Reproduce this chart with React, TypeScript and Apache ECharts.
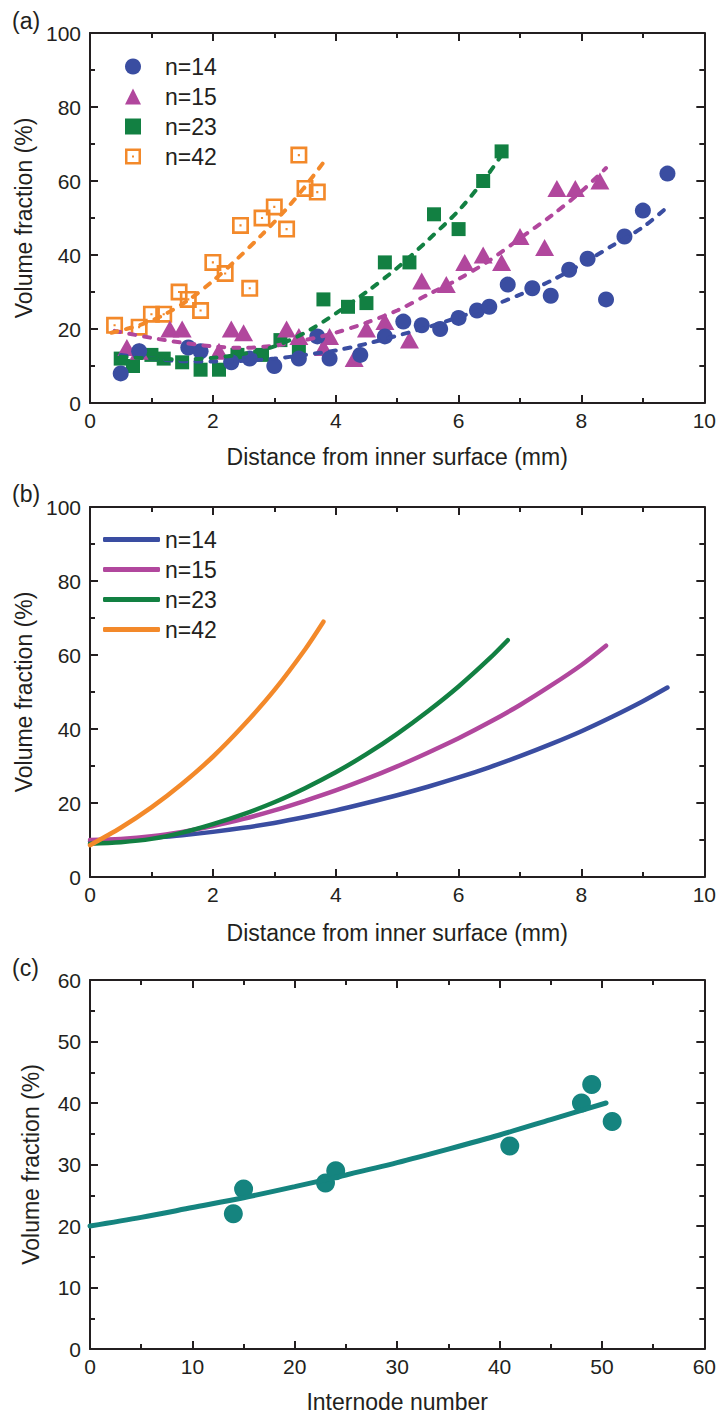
import React, { useEffect, useRef } from "react";
import * as echarts from "echarts";

// ---------- Panel (a): measured points ----------
const n14Points = [
  [0.5, 8], [0.8, 14], [1.6, 15], [1.8, 14], [2.3, 11], [2.6, 12], [3.0, 10], [3.4, 12],
  [3.7, 18], [3.9, 12], [4.4, 13], [4.8, 18], [5.1, 22], [5.4, 21], [5.7, 20], [6.0, 23],
  [6.3, 25], [6.5, 26], [6.8, 32], [7.2, 31], [7.5, 29], [7.8, 36], [8.1, 39], [8.4, 28],
  [8.7, 45], [9.0, 52], [9.4, 62],
];
const n15Points = [
  [0.6, 15], [0.8, 14], [1.3, 20], [1.5, 20], [2.1, 14], [2.3, 20], [2.5, 19], [3.2, 20],
  [3.4, 18], [3.8, 15], [3.9, 18], [4.3, 12], [4.5, 20], [4.8, 22], [5.2, 17], [5.4, 33],
  [5.8, 32], [6.1, 38], [6.4, 40], [6.7, 38], [7.0, 45], [7.4, 42], [7.6, 58], [7.9, 58],
  [8.3, 60],
];
const n23Points = [
  [0.5, 12], [0.7, 10], [1.0, 13], [1.2, 12], [1.5, 11], [1.8, 9], [2.1, 9], [2.4, 13],
  [2.8, 13], [3.1, 17], [3.4, 14], [3.8, 28], [4.2, 26], [4.5, 27], [4.8, 38], [5.2, 38],
  [5.6, 51], [6.0, 47], [6.4, 60], [6.7, 68],
];
const n42Points = [
  [0.4, 21], [0.8, 20.5], [1.0, 24], [1.2, 24], [1.45, 30], [1.6, 28], [1.8, 25], [2.0, 38],
  [2.2, 35], [2.45, 48], [2.6, 31], [2.8, 50], [3.0, 53], [3.2, 47], [3.4, 67], [3.5, 58],
  [3.7, 57],
];

// ---------- Panel (a): dashed fit curves ----------
const fitA14 = [
  [0.5, 13], [1, 12], [1.5, 11.3], [2, 11.2], [2.5, 11.4], [3, 12], [3.5, 13], [4, 14.2],
  [4.5, 16], [5, 18.2], [5.5, 20.5], [6, 23.2], [6.5, 26], [7, 29.3], [7.5, 33], [8, 37.5],
  [8.5, 42.5], [9, 47.5], [9.4, 53],
];
const fitA15 = [
  [0.4, 19.5], [1, 17.6], [1.5, 16.3], [2, 15.3], [2.5, 14.9], [3, 15.5], [3.5, 17], [4, 19],
  [4.5, 21.7], [5, 25], [5.5, 29.3], [6, 33.5], [6.5, 38.5], [7, 44.5], [7.5, 50.5], [8, 57.2],
  [8.4, 63.5],
];
const fitA23 = [
  [0.5, 12.5], [1, 12], [1.5, 11.8], [2, 12.2], [2.5, 13.3], [3, 15.3], [3.5, 19], [4, 24.2],
  [4.5, 30], [5, 36.5], [5.5, 44], [6, 52], [6.4, 60], [6.7, 67],
];
const fitA42 = [
  [0.35, 19], [0.8, 21], [1.2, 23.8], [1.6, 27.8], [2.0, 33], [2.4, 39], [2.8, 45.5],
  [3.2, 52.5], [3.5, 58.5], [3.8, 65],
];

// ---------- Panel (b): model curves ----------
const curveB14 = [
  [0, 9.6], [0.5, 10], [1, 10.6], [1.5, 11.3], [2, 12.2], [2.5, 13.3], [3, 14.6], [3.5, 16.2],
  [4, 18], [4.5, 20], [5, 22.1], [5.5, 24.4], [6, 26.9], [6.5, 29.65], [7, 32.65], [7.5, 35.9],
  [8, 39.4], [8.5, 43.3], [9, 47.5], [9.4, 51.2],
];
const curveB15 = [
  [0, 10], [0.5, 10.3], [1, 11], [1.5, 12.2], [2, 13.8], [2.5, 15.7], [3, 18], [3.5, 20.6],
  [4, 23.4], [4.5, 26.5], [5, 29.9], [5.5, 33.6], [6, 37.5], [6.5, 41.8], [7, 46.5],
  [7.5, 51.7], [8, 57.3], [8.4, 62.5],
];
const curveB23 = [
  [0, 9], [0.5, 9.4], [1, 10.3], [1.5, 12], [2, 14.3], [2.5, 17], [3, 20.2], [3.5, 24],
  [4, 28.3], [4.5, 33.2], [5, 38.7], [5.5, 44.8], [6, 51.5], [6.5, 59], [6.8, 64],
];
const curveB42 = [
  [0, 8.6], [0.5, 13.3], [1, 18.8], [1.5, 25.2], [2, 32.5], [2.5, 41], [3, 50.5], [3.5, 61.5],
  [3.8, 69],
];

// ---------- Panel (c) ----------
const internodePoints = [
  [14, 22], [15, 26], [23, 27], [24, 29], [41, 33], [48, 40], [49, 43], [51, 37],
];
const internodeFit = [
  [0, 20], [5, 21.4], [10, 23], [15, 24.6], [20, 26.4], [25, 28.3], [30, 30.3], [35, 32.5],
  [40, 34.8], [45, 37.3], [50.4, 40],
];

const seriesNames = ["n=14", "n=15", "n=23", "n=42"];
const panelLabels = ["(a)", "(b)", "(c)"];
const xTitleDistance = "Distance from inner surface (mm)";
const xTitleInternode = "Internode number";
const yTitle = "Volume fraction (%)";

const FONT = "'Liberation Sans', Arial, Helvetica, sans-serif";
const AX = "#231f20";
const C14 = "#3a4da1";
const C15 = "#b1479d";
const C23 = "#128042";
const C42 = "#f3892a";
const CC = "#15847f";
const OPEN_SQ = "path://M0,0H16V16H0Z M2.5,2.5V13.5H13.5V2.5Z M7,7H9V9H7Z";

const tickStyle = {
  axisLine: { show: true, onZero: false, lineStyle: { color: AX, width: 2 } },
  axisTick: { show: true, inside: true, length: 8, lineStyle: { color: AX, width: 2 } },
  minorTick: { show: true, splitNumber: 2, length: 5, lineStyle: { color: AX, width: 2 } },
  splitLine: { show: false },
  minorSplitLine: { show: false },
};

function xAxes(gridIndex: number, max: number, interval: number, name: string, nameGap: number) {
  return [
    {
      type: "value", gridIndex, min: 0, max, interval, position: "bottom",
      name, nameLocation: "middle", nameGap,
      nameTextStyle: { fontSize: 23, color: AX, fontFamily: FONT },
      axisLabel: { fontSize: 21, color: AX, fontFamily: FONT, margin: 7 },
      ...tickStyle,
    },
    {
      type: "value", gridIndex, min: 0, max, interval, position: "top",
      axisLabel: { show: false },
      ...tickStyle,
    },
  ];
}

function yAxes(gridIndex: number, max: number, interval: number) {
  return [
    {
      type: "value", gridIndex, min: 0, max, interval, position: "left",
      name: yTitle, nameLocation: "middle", nameGap: 48,
      nameTextStyle: { fontSize: 23, color: AX, fontFamily: FONT },
      axisLabel: { fontSize: 21, color: AX, fontFamily: FONT, margin: 9 },
      ...tickStyle,
    },
    {
      type: "value", gridIndex, min: 0, max, interval, position: "right",
      axisLabel: { show: false },
      ...tickStyle,
    },
  ];
}

function scatter(name: string, data: number[][], color: string, symbol: string, size: any, axis: number) {
  return {
    type: "scatter", name, data, symbol, symbolSize: size,
    xAxisIndex: axis, yAxisIndex: axis, z: 2,
    itemStyle: { color, opacity: 1 },
  };
}

function line(name: string, data: number[][], color: string, width: number, dashed: boolean, axis: number) {
  return {
    type: "line", name, data, xAxisIndex: axis, yAxisIndex: axis,
    showSymbol: false, symbol: "none", smooth: 0.3, z: 3,
    itemStyle: { color },
    lineStyle: { color, width, type: dashed ? [6, 9] : "solid", cap: "round" },
  };
}

export default function App() {
  const ref = useRef<HTMLDivElement>(null);
  useEffect(() => {
    const chart = echarts.init(ref.current!, null, { renderer: "svg" });
    const bNames = seriesNames.map((n) => n + " (b)");
    const option: any = {
      animation: false,
      backgroundColor: "#ffffff",
      textStyle: { fontFamily: FONT },
      grid: [
        { left: 90, top: 33, width: 617, height: 370 },
        { left: 90, top: 507, width: 616, height: 370 },
        { left: 90, top: 980, width: 616, height: 369 },
      ],
      xAxis: [
        ...xAxes(0, 10, 2, xTitleDistance, 42),
        ...xAxes(1, 10, 2, xTitleDistance, 44),
        ...xAxes(2, 60, 10, xTitleInternode, 41),
      ],
      yAxis: [...yAxes(0, 100, 20), ...yAxes(1, 100, 20), ...yAxes(2, 60, 10)],
      legend: [
        {
          orient: "vertical", left: 125, top: 55, padding: 0, itemWidth: 16, itemHeight: 16, itemGap: 7,
          data: seriesNames, selectedMode: false,
          formatter: (n: string) => `{t|${n}}`,
          textStyle: {
            rich: { t: { fontSize: 23, fontFamily: FONT, color: AX, padding: [0, 0, 0, 19], lineHeight: 22 } },
          },
        },
        {
          orient: "vertical", left: 103, top: 528, padding: 0, itemWidth: 57, itemHeight: 5, itemGap: 7,
          icon: "roundRect",
          data: bNames, selectedMode: false,
          formatter: (n: string) => `{t|${n.replace(" (b)", "")}}`,
          textStyle: {
            rich: { t: { fontSize: 23, fontFamily: FONT, color: AX, lineHeight: 22 } },
          },
        },
      ],
      graphic: panelLabels.map((t, i) => ({
        type: "text", left: 12, top: [9, 482, 956][i],
        style: { text: t, fontSize: 23, fontFamily: FONT, fill: AX },
      })),
      series: [
        scatter(seriesNames[3], n42Points, C42, OPEN_SQ, 17, 0),
        scatter(seriesNames[2], n23Points, C23, "rect", 14, 0),
        scatter(seriesNames[1], n15Points, C15, "triangle", [19, 17], 0),
        scatter(seriesNames[0], n14Points, C14, "circle", 16, 0),
        line("fit n=14", fitA14, C14, 4, true, 0),
        line("fit n=15", fitA15, C15, 4, true, 0),
        line("fit n=23", fitA23, C23, 4, true, 0),
        line("fit n=42", fitA42, C42, 4, true, 0),
        line(bNames[0], curveB14, C14, 4.5, false, 2),
        line(bNames[1], curveB15, C15, 4.5, false, 2),
        line(bNames[2], curveB23, C23, 4.5, false, 2),
        line(bNames[3], curveB42, C42, 4.5, false, 2),
        line("internode fit", internodeFit, CC, 5, false, 4),
        scatter("internode", internodePoints, CC, "circle", 19, 4),
      ],
    };
    chart.setOption(option);
    return () => chart.dispose();
  }, []);
  return (
    <div
      ref={ref}
      style={{ position: "absolute", left: 0, top: 0, width: 719, height: 1416, background: "#fff" }}
    />
  );
}
